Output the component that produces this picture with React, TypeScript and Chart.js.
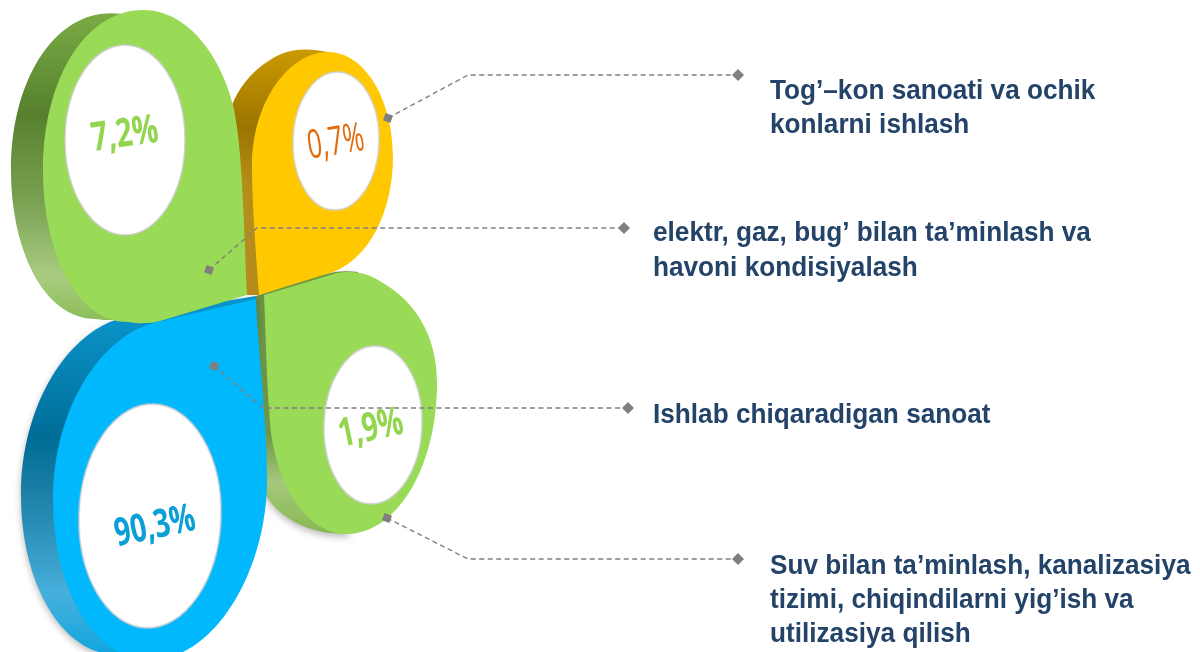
import React, { useEffect, useRef } from "react";
import { Chart, registerables } from "chart.js";

Chart.register(...registerables);

// ---- data ----
const sectors = ["Tog’–kon sanoati va ochik konlarni ishlash", "elektr, gaz, bug’ bilan ta’minlash va havoni kondisiyalash", "Ishlab chiqaradigan sanoat", "Suv bilan ta’minlash, kanalizasiya tizimi, chiqindilarni yig’ish va utilizasiya qilish"];
const shares = [0.7, 7.2, 90.3, 1.9];
const labelLines = [
  ["Tog’–kon sanoati va ochik", "konlarni ishlash"],
  ["elektr, gaz, bug’ bilan ta’minlash va", "havoni kondisiyalash"],
  ["Ishlab chiqaradigan sanoat"],
  ["Suv bilan ta’minlash, kanalizasiya", "tizimi, chiqindilarni yig’ish va", "utilizasiya qilish"],
];

// ---- layout (separate from the data) ----
const W = 1200;
const H = 652;
const holeX = [336, 125, 150, 373];
const holeY = [141, 140, 516, 425];
const holeRx = [43, 60, 71, 49];
const holeRy = [69, 95, 112, 79];
const holeTilt = [0.03, 0, 0.035, 0.04];
const valueX = [336, 125, 155, 371];
const valueY = [143, 135, 527, 429];
const valueAngle = [-9, -8, -12, -12];
const valueFont = ["500 40px 'Open Sans'", "700 40px 'Open Sans'", "700 39px 'Open Sans'", "700 40px 'Open Sans'"];
const valueScale = [0.64, 0.72, 0.72, 0.7];
const valueColor = ["#e36c0a", "#92d650", "#0a9fd6", "#92d650"];
const leaderPaths = [
  [[388, 118], [468, 75], [738, 75]],
  [[209, 270], [257, 228], [624, 228]],
  [[214, 366], [263, 408], [628, 408]],
  [[387, 518], [468, 559], [738, 559]],
];
const labelX = [770, 653, 653, 770];
const labelBase = [[99, 133], [241, 276], [423], [574, 608, 642]];

type Seg = number[];
type Shape = { side: Seg[]; face: Seg[]; fill: string; stops: [number, string][]; top: number; bottom: number; shadow?: boolean };
const translate = (segs: Seg[], dx: number, dy: number, cy = 0, sy = 1) =>
  segs.map((s) => s.map((v, i) => (i % 2 === 0 ? v + dx : cy + (v - cy) * sy + dy)));

const faceOlive = [[247, 295], [160, 321], [150, 323.5, 140, 324, 128, 322], [75, 322, 43, 250, 43, 170], [43, 80, 85, 10, 143, 10], [190, 10, 222, 60, 233, 105], [241, 140, 243, 190, 247, 295]];
const faceYellow = [[259, 295], [333, 272], [370, 258, 393, 210, 393, 157], [393, 100, 365, 52, 328, 52], [290, 52, 252, 100, 252, 167], [252, 200, 255, 240, 259, 295]];
const faceLower = [[264, 295], [337, 273], [350, 271, 365, 272, 378, 280], [415, 300, 437, 335, 437, 383], [437, 470, 395, 534, 347, 534], [310, 534, 282, 495, 272, 440], [267, 400, 266, 340, 264, 295]];
const faceBlue = [[256, 299], [157, 322], [100, 335, 53, 410, 53, 500], [53, 590, 95, 660, 150, 660], [215, 660, 267, 570, 267, 480], [267, 420, 258, 350, 256, 299]];

// painted back to front
const shapes: Shape[] = [
  {
    face: faceLower,
    side: [[358, 272], [340, 270, 330, 272, 300, 281], [256, 296], [256, 470], [262, 500, 285, 527, 330, 533], [350, 534], [300, 400]],
    fill: "#99db57", top: 270, bottom: 535, shadow: true,
    stops: [[0, "#6f9c3f"], [0.1, "#6b9145"], [0.62, "#6d9648"], [0.8, "#a5c77d"], [1, "#86b950"]],
  },
  {
    face: faceBlue,
    side: [[256, 296], ...translate(faceBlue, -32, -5).slice(1, 5), [256, 400]],
    fill: "#00b8fb", top: 318, bottom: 655, shadow: true,
    stops: [[0, "#0a93c9"], [0.36, "#006d96"], [0.52, "#1c80a8"], [0.82, "#47afdb"], [1, "#0fa6e0"]],
  },
  {
    face: faceYellow,
    side: [[332, 53], [310, 48, 290, 47, 270, 60], [250, 72, 238, 90, 232, 105], [240, 295], [259, 295], [259, 200], [300, 100]],
    fill: "#ffc800", top: 48, bottom: 295,
    stops: [[0, "#cc9b00"], [0.32, "#9c7400"], [0.55, "#b58e1a"], [1, "#b58c1c"]],
  },
  {
    face: faceOlive,
    side: translate(faceOlive, -32, 0, 167, 0.98),
    fill: "#99db57", top: 12, bottom: 322,
    stops: [[0, "#7bab45"], [0.33, "#56802e"], [0.6, "#78a051"], [0.85, "#a8cc80"], [1, "#8cbd58"]],
  },
];

function makeHole(rx: number, ry: number): HTMLCanvasElement {
  const c = document.createElement("canvas");
  c.width = Math.ceil(rx * 2 + 6);
  c.height = Math.ceil(ry * 2 + 6);
  const g = c.getContext("2d")!;
  g.beginPath();
  g.ellipse(c.width / 2, c.height / 2, rx, ry, 0, 0, Math.PI * 2);
  g.fillStyle = "#ffffff";
  g.strokeStyle = "#cfcdd1";
  g.lineWidth = 1.3;
  g.fill();
  g.stroke();
  return c;
}

export default function App() {
  const ref = useRef<HTMLCanvasElement>(null);
  useEffect(() => {
    const petals = {
      id: "petals",
      beforeDatasetsDraw(chart: any) {
        const { ctx, scales } = chart;
        const px = (v: number) => scales.x.getPixelForValue(v);
        const py = (v: number) => scales.y.getPixelForValue(v);
        const trace = (segs: Seg[]) => {
          ctx.beginPath();
          segs.forEach((s, i) => {
            if (i === 0) ctx.moveTo(px(s[0]), py(s[1]));
            else if (s.length === 2) ctx.lineTo(px(s[0]), py(s[1]));
            else ctx.bezierCurveTo(px(s[0]), py(s[1]), px(s[2]), py(s[3]), px(s[4]), py(s[5]));
          });
          ctx.closePath();
        };
        shapes.forEach((sh) => {
          const grad = ctx.createLinearGradient(0, py(sh.top), 0, py(sh.bottom));
          sh.stops.forEach(([o, c]) => grad.addColorStop(o, c));
          ctx.save();
          if (sh.shadow) {
            ctx.shadowColor = "rgba(0,0,0,0.28)";
            ctx.shadowBlur = 7;
            ctx.shadowOffsetY = 3;
          }
          trace(sh.side);
          ctx.fillStyle = grad;
          ctx.fill();
          ctx.restore();
          trace(sh.face);
          ctx.fillStyle = sh.fill;
          ctx.fill();
        });
      },
    };
    const texts = {
      id: "texts",
      afterDatasetsDraw(chart: any) {
        const { ctx, scales } = chart;
        const px = (v: number) => scales.x.getPixelForValue(v);
        const py = (v: number) => scales.y.getPixelForValue(v);
        shares.forEach((v, i) => {
          ctx.save();
          ctx.translate(px(valueX[i]), py(valueY[i]));
          ctx.rotate((valueAngle[i] * Math.PI) / 180);
          ctx.scale(valueScale[i], 1);
          ctx.font = valueFont[i];
          ctx.fillStyle = valueColor[i];
          ctx.textAlign = "center";
          ctx.textBaseline = "middle";
          ctx.fillText(v.toFixed(1).replace(".", ",") + "%", 0, 0);
          ctx.restore();
        });
        labelLines.forEach((lines, i) => {
          lines.forEach((line, j) => {
            ctx.save();
            ctx.translate(px(labelX[i]), py(labelBase[i][j]));
            ctx.scale(0.935, 1);
            ctx.font = "bold 28px 'Liberation Sans'";
            ctx.fillStyle = "#234369";
            ctx.textAlign = "left";
            ctx.textBaseline = "alphabetic";
            ctx.fillText(line, 0, 0);
            ctx.restore();
          });
        });
      },
    };
    const holeIcons = holeRx.map((rx, i) => makeHole(rx, holeRy[i]));
    const chart = new Chart(ref.current!, {
      type: "scatter",
      data: {
        datasets: [
          ...leaderPaths.map((path, i) => ({
            label: sectors[i],
            data: path.map(([x, y]) => ({ x, y })),
            showLine: true,
            borderColor: "#808080",
            borderWidth: 1.4,
            borderDash: [5, 3.5],
            fill: false,
            pointRadius: [5.5, 0, 6],
            pointStyle: ["rect", "circle", "rectRot"],
            pointRotation: [20, 0, 0],
            pointBackgroundColor: "#7f7f7f",
            pointBorderWidth: 0,
            tension: 0,
          })),
          {
            label: "shares",
            data: shares.map((_, i) => ({ x: holeX[i], y: holeY[i] })),
            pointStyle: holeIcons,
            pointRadius: 5,
            pointRotation: holeTilt.map((t) => (t * 180) / Math.PI),
            showLine: false,
          },
        ] as any,
      },
      options: {
        animation: false,
        responsive: false,
        maintainAspectRatio: false,
        layout: { padding: 0, autoPadding: false },
        plugins: { legend: { display: false }, tooltip: { enabled: false }, title: { display: false } },
        events: [],
        scales: {
          x: { type: "linear", min: 0, max: W, display: false },
          y: { type: "linear", min: 0, max: H, reverse: true, display: false },
        },
      },
      plugins: [petals, texts],
    });
    return () => chart.destroy();
  }, []);
  return (
    <div style={{ position: "absolute", left: 0, top: 0, width: W, height: H, background: "#fff", overflow: "hidden" }}>
      <canvas ref={ref} width={W} height={H} style={{ display: "block" }} />
    </div>
  );
}
